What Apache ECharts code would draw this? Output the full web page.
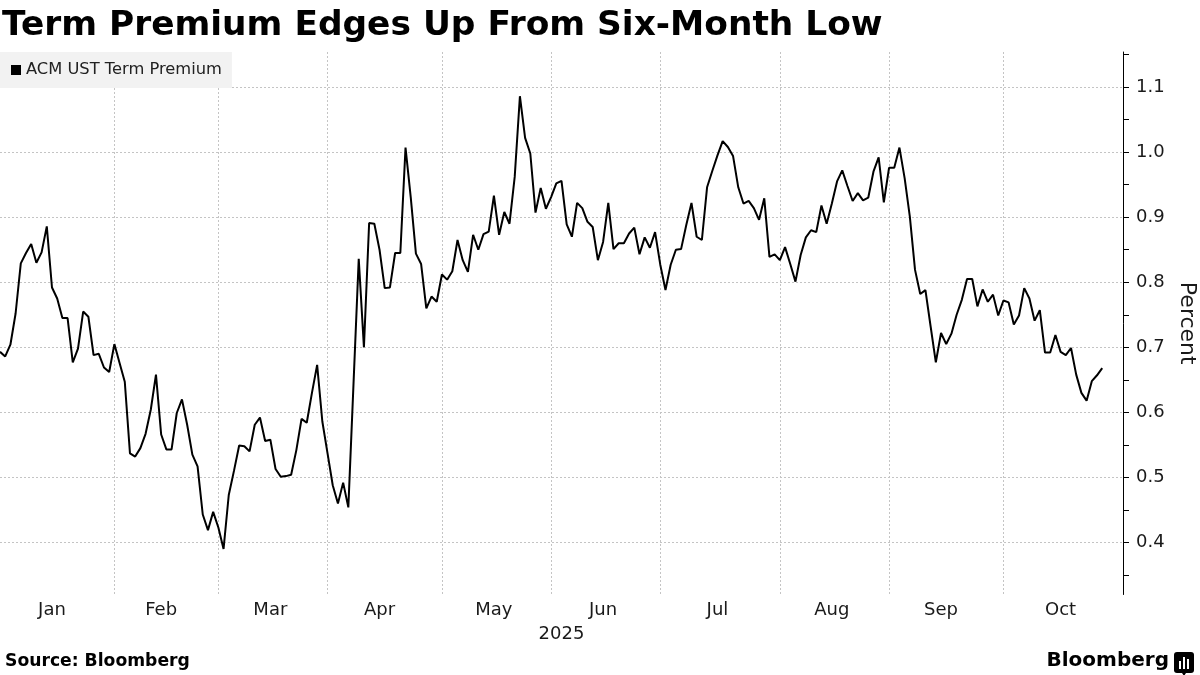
<!DOCTYPE html>
<html>
<head>
<meta charset="utf-8">
<script src="https://cdn.jsdelivr.net/npm/echarts@6/dist/echarts.min.js"></script>
<style>
html,body{margin:0;padding:0;background:#ffffff;}
#chart{width:1200px;height:675px;}
</style>
</head>
<body>
<div id="chart"></div>
<script>
// ---- data ----
const START_DATE = '2025-01-02';
const END_DATE = '2025-11-03';
const HOLIDAYS = ['2025-05-26'];
const monthNames = ['Jan','Feb','Mar','Apr','May','Jun','Jul','Aug','Sep','Oct','Nov','Dec'];
const seriesName = 'ACM UST Term Premium';
const termPremium = [
  0.693,0.686,0.704,0.752,0.829,0.845,0.859,0.830,0.846,0.886,
  0.792,0.775,0.745,0.745,0.677,0.698,0.755,0.747,0.688,0.690,
  0.669,0.662,0.705,0.676,0.647,0.537,0.532,0.545,0.567,0.604,
  0.658,0.566,0.543,0.543,0.599,0.620,0.581,0.535,0.517,0.443,
  0.419,0.447,0.423,0.390,0.473,0.510,0.549,0.548,0.540,0.581,
  0.592,0.556,0.558,0.513,0.501,0.502,0.504,0.542,0.590,0.584,
  0.630,0.673,0.586,0.537,0.488,0.460,0.492,0.454,0.645,0.836,
  0.700,0.891,0.890,0.850,0.791,0.792,0.845,0.845,1.007,0.931,
  0.844,0.828,0.760,0.778,0.770,0.812,0.804,0.817,0.865,0.834,
  0.816,0.873,0.850,0.874,0.878,0.933,0.873,0.908,0.890,0.962,
  1.086,1.022,0.998,0.907,0.945,0.913,0.931,0.952,0.956,0.889,
  0.870,0.922,0.914,0.893,0.885,0.834,0.862,0.922,0.851,0.860,
  0.860,0.875,0.884,0.843,0.869,0.853,0.877,0.827,0.788,0.827,
  0.850,0.851,0.888,0.922,0.870,0.865,0.946,0.971,0.995,1.017,
  1.008,0.994,0.946,0.921,0.925,0.914,0.896,0.929,0.839,0.843,
  0.834,0.854,0.828,0.801,0.842,0.869,0.880,0.877,0.918,0.890,
  0.921,0.955,0.972,0.948,0.925,0.937,0.926,0.930,0.970,0.992,
  0.923,0.976,0.976,1.007,0.960,0.901,0.819,0.782,0.788,0.732,
  0.677,0.722,0.705,0.721,0.750,0.773,0.805,0.805,0.763,0.789,
  0.770,0.781,0.749,0.772,0.769,0.735,0.749,0.791,0.775,0.741,
  0.757,0.692,0.692,0.719,0.693,0.688,0.699,0.658,0.630,0.618,
  0.648,0.657,0.668
];
const yLabelValues = [0.4,0.5,0.6,0.7,0.8,0.9,1.0,1.1];
const yTickValues = [0.35,0.4,0.45,0.5,0.55,0.6,0.65,0.7,0.75,0.8,0.85,0.9,0.95,1.0,1.05,1.1,1.15];
const yearLabel = '2025';

// ---- business-day categories ----
function fmt(d){
  const m = d.getUTCMonth()+1, day = d.getUTCDate();
  return d.getUTCFullYear()+'-'+(m<10?'0':'')+m+'-'+(day<10?'0':'')+day;
}
const dates = [];
{
  const d = new Date(START_DATE+'T00:00:00Z');
  const end = new Date(END_DATE+'T00:00:00Z');
  while (d <= end) {
    const wd = d.getUTCDay();
    const s = fmt(d);
    if (wd !== 0 && wd !== 6 && HOLIDAYS.indexOf(s) < 0) dates.push(s);
    d.setUTCDate(d.getUTCDate()+1);
  }
}
// month boundaries and month middles
const monthFirst = {};
const monthMid = {};
{
  const groups = {};
  dates.forEach((s,i)=>{ const k=s.slice(0,7); (groups[k]=groups[k]||[]).push(i); });
  Object.keys(groups).forEach(k=>{
    const g = groups[k];
    monthFirst[g[0]] = true;
    if (g.length > 10) monthMid[Math.floor((g[0]+g[g.length-1])/2)] = true;
  });
}

const FONT = 'DejaVu Sans';
const chart = echarts.init(document.getElementById('chart'), null, {renderer:'canvas'});
chart.setOption({
  animation: false,
  backgroundColor: '#ffffff',
  title: {
    text: 'Term Premium Edges Up From Six-Month Low',
    left: 2, top: 9, padding: 0,
    textStyle: {fontFamily: FONT, fontWeight: 'bold', fontSize: 34.4, color: '#000000'}
  },
  legend: {
    left: 0, top: 52,
    padding: [10, 10, 10, 11],
    backgroundColor: '#f2f2f2',
    itemWidth: 10, itemHeight: 10,
    icon: 'rect',
    selectedMode: false,
    textStyle: {fontFamily: FONT, fontSize: 16.3, color: '#222222'},
    data: [seriesName]
  },
  grid: {left: 0, right: 77, top: 52, bottom: 80.5, containLabel: false, outerBoundsMode: 'none'},
  xAxis: {
    type: 'category',
    data: dates,
    boundaryGap: false,
    axisLine: {show: false},
    axisTick: {show: false},
    axisLabel: {
      interval: (i) => !!monthMid[i],
      formatter: (v) => monthNames[parseInt(v.slice(5,7),10)-1],
      fontFamily: FONT, fontSize: 18, color: '#1a1a1a', margin: 7
    },
    splitLine: {
      show: true,
      interval: (i) => i > 0 && !!monthFirst[i],
      lineStyle: {color: '#c4c4c4', width: 1, type: [2, 2]}
    },
    name: yearLabel,
    nameLocation: 'middle',
    nameGap: 31,
    nameTextStyle: {fontFamily: FONT, fontSize: 18, color: '#1a1a1a'}
  },
  yAxis: [
    {
      type: 'value',
      position: 'right',
      min: 0.32, max: 1.154,
      axisLine: {show: true, lineStyle: {color: '#000000', width: 1}},
      axisTick: {show: true, length: 6, inside: false, customValues: yTickValues, lineStyle: {color: '#000000'}},
      axisLabel: {
        customValues: yLabelValues,
        formatter: (v) => v.toFixed(1),
        fontFamily: FONT, fontSize: 18, color: '#1a1a1a', margin: 13
      },
      splitLine: {show: false},
      name: 'Percent',
      nameLocation: 'middle',
      nameRotate: -90,
      nameGap: 43,
      nameTextStyle: {fontFamily: FONT, fontSize: 22, color: '#1a1a1a'}
    },
    {
      type: 'value',
      position: 'right',
      min: 0.32, max: 1.154,
      axisLine: {show: false},
      axisTick: {show: false, customValues: yLabelValues},
      axisLabel: {show: false, customValues: yLabelValues},
      splitLine: {show: true, lineStyle: {color: '#c4c4c4', width: 1, type: [2, 2]}}
    }
  ],
  series: [{
    name: seriesName,
    type: 'line',
    yAxisIndex: 0,
    data: termPremium,
    showSymbol: false,
    symbol: 'none',
    lineStyle: {color: '#000000', width: 2},
    itemStyle: {color: '#000000'},
    z: 5
  }],
  graphic: [
    {type: 'text', left: 5, top: 653,
     style: {text: 'Source: Bloomberg', fontFamily: FONT, fontWeight: 'bold', fontSize: 17.2, fill: '#000000'}},
    {type: 'text', right: 31, top: 651,
     style: {text: 'Bloomberg', fontFamily: FONT, fontWeight: 'bold', fontSize: 20, fill: '#000000'}},
    {type: 'group', left: 1174, top: 652, children: [
      {type: 'rect', shape: {x: 0, y: 0, width: 20, height: 21, r: 3}, style: {fill: '#000000'}},
      {type: 'rect', shape: {x: 5, y: 9, width: 2, height: 8}, style: {fill: '#ffffff'}},
      {type: 'rect', shape: {x: 9, y: 5, width: 2, height: 12}, style: {fill: '#ffffff'}},
      {type: 'rect', shape: {x: 13, y: 7, width: 2, height: 10}, style: {fill: '#ffffff'}},
      {type: 'polygon', shape: {points: [[8,21],[12,21],[10,24]]}, style: {fill: '#000000'}}
    ]}
  ]
});
</script>
</body>
</html>
